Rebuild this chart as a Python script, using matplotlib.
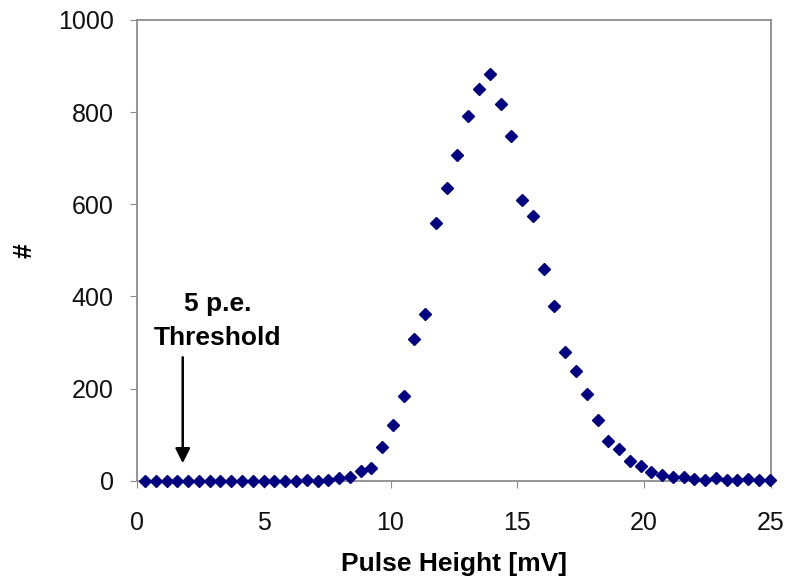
import matplotlib.pyplot as plt

plt.rcParams['font.family'] = ['Liberation Sans', 'DejaVu Sans']

# pulse height bins [mV] and counts
pulse_height = [0.32, 0.74, 1.17, 1.59, 2.02, 2.44, 2.87, 3.29, 3.72, 4.14,
                4.57, 4.99, 5.42, 5.84, 6.27, 6.69, 7.12, 7.54, 7.97, 8.39,
                8.82, 9.24, 9.67, 10.09, 10.52, 10.94, 11.37, 11.79, 12.22, 12.64,
                13.07, 13.49, 13.92, 14.34, 14.77, 15.19, 15.62, 16.04, 16.47, 16.89,
                17.32, 17.74, 18.17, 18.59, 19.02, 19.44, 19.87, 20.29, 20.72, 21.14,
                21.57, 21.99, 22.42, 22.84, 23.27, 23.69, 24.12, 24.54, 24.97]
counts = [0, 0, 0, 0, 0, 0, 0, 0, 0, 0,
          0, 0, 0, 0, 0, 2, 0, 2, 5, 9,
          21, 27, 73, 120, 185, 307, 361, 559, 635, 706,
          792, 850, 883, 818, 749, 610, 574, 459, 380, 279,
          239, 189, 131, 87, 69, 42, 33, 20, 12, 9,
          9, 4, 2, 5, 2, 2, 3, 2, 2]

x_ticks = [0, 5, 10, 15, 20, 25]
y_ticks = [0, 200, 400, 600, 800, 1000]

fig = plt.figure(figsize=(7.88, 5.87), dpi=100)
ax = fig.add_axes([0.174, 0.181, 0.804, 0.785])

ax.plot(pulse_height, counts, linestyle='none', marker='D', markersize=6.3,
        color='#000080', clip_on=False, zorder=3)

ax.set_xlim(0, 25)
ax.set_ylim(0, 1000)
ax.set_xticks(x_ticks)
ax.set_yticks(y_ticks)

for s in ax.spines.values():
    s.set_color('#8c8c8c')
    s.set_linewidth(1.3)
ax.tick_params(direction='out', length=5, color='#8c8c8c', labelsize=18,
               labelcolor='#111111')
ax.tick_params(axis='x', pad=17)
ax.tick_params(axis='y', pad=12)

ax.set_xlabel('Pulse Height [mV]', fontsize=19, fontweight='bold', labelpad=12)
ax.set_ylabel('#', fontsize=19, fontweight='bold', va='center')
ax.yaxis.set_label_coords(-0.178, 0.5)

# threshold marker
ax.annotate('', xy=(1.8, 38), xytext=(1.8, 268),
            arrowprops=dict(arrowstyle='-|>', color='black', lw=1.8,
                            mutation_scale=22, shrinkA=0, shrinkB=0))
ax.text(3.18, 347, '5 p.e.\nThreshold', ha='center', va='center',
        fontsize=19, fontweight='bold', linespacing=1.55)

fig.savefig('out.png', dpi=100)
